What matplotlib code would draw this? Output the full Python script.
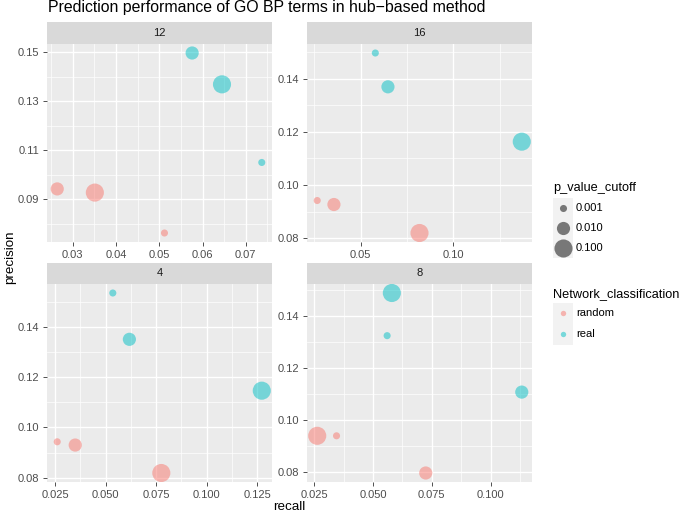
import matplotlib
matplotlib.use("Agg")
import matplotlib.pyplot as plt
from matplotlib.patches import Rectangle

plt.rcParams['font.family'] = ['Liberation Sans', 'DejaVu Sans']

# facet labels (hub count), in panel order
hub_labels = ['12', '16', '4', '8']
cutoff_levels = [0.001, 0.010, 0.100]
class_labels = ['random', 'real']

# one row per panel, values ordered by cutoff 0.001, 0.010, 0.100
random_recall = [[0.0512, 0.0264, 0.0351],
                 [0.0266, 0.0356, 0.0817],
                 [0.0261, 0.0350, 0.0776],
                 [0.0345, 0.0724, 0.0263]]
random_precision = [[0.0762, 0.0942, 0.0927],
                    [0.0942, 0.0927, 0.0820],
                    [0.0943, 0.0930, 0.0819],
                    [0.0941, 0.0798, 0.0941]]
real_recall = [[0.0737, 0.0576, 0.0645],
               [0.0579, 0.0647, 0.1368],
               [0.0536, 0.0618, 0.1273],
               [0.0560, 0.1132, 0.0580]]
real_precision = [[0.1050, 0.1497, 0.1369],
                  [0.1496, 0.1369, 0.1163],
                  [0.1534, 0.1350, 0.1146],
                  [0.1326, 0.1109, 0.1490]]

# tick positions per panel
x_major = [[0.03, 0.04, 0.05, 0.06, 0.07],
           [0.05, 0.10],
           [0.025, 0.050, 0.075, 0.100, 0.125],
           [0.025, 0.050, 0.075, 0.100]]
x_labels = [['0.03', '0.04', '0.05', '0.06', '0.07'],
            ['0.05', '0.10'],
            ['0.025', '0.050', '0.075', '0.100', '0.125'],
            ['0.025', '0.050', '0.075', '0.100']]
y_major = [[0.09, 0.11, 0.13, 0.15],
           [0.08, 0.10, 0.12, 0.14],
           [0.08, 0.10, 0.12, 0.14],
           [0.08, 0.10, 0.12, 0.14]]
y_labels = [['0.09', '0.11', '0.13', '0.15'],
            ['0.08', '0.10', '0.12', '0.14'],
            ['0.08', '0.10', '0.12', '0.14'],
            ['0.08', '0.10', '0.12', '0.14']]

colors = {'random': '#F8766D', 'real': '#00BFC4'}
point_sizes = [26, 90, 170]
ALPHA = 0.5
TICK_FS = 8.0
LAB_FS = 9.6
LEG_FS = 9.2

W, H = 685, 513
fig = plt.figure(figsize=(W / 100, H / 100), dpi=100)


def box(x0, y0, x1, y1):
    """ pixel box (top-left origin) -> figure fraction rect """
    return [x0 / W, 1 - y1 / H, (x1 - x0) / W, (y1 - y0) / H]


def minors(ticks, lo, hi):
    step = ticks[1] - ticks[0]
    vals = [ticks[0] - step / 2] + [t + step / 2 for t in ticks]
    return [v for v in vals if lo <= v <= hi]


panel_boxes = [(47, 44, 272, 242), (307, 44, 532, 242),
               (47, 284, 272, 482), (307, 284, 532, 482)]
strip_h = [22, 22, 21, 21]

for i, hub in enumerate(hub_labels):
    x0, y0, x1, y1 = panel_boxes[i]
    ax = fig.add_axes(box(x0, y0, x1, y1))
    ax.set_facecolor('#EBEBEB')
    for s in ax.spines.values():
        s.set_visible(False)

    for cls, xs, ys in (('random', random_recall[i], random_precision[i]),
                        ('real', real_recall[i], real_precision[i])):
        ax.scatter(xs, ys, s=point_sizes, color=colors[cls], alpha=ALPHA,
                   linewidths=0, zorder=3)
    ax.margins(0.05)

    ax.set_xticks(x_major[i])
    ax.set_xticklabels(x_labels[i])
    ax.set_yticks(y_major[i])
    ax.set_yticklabels(y_labels[i])
    xlo, xhi = ax.get_xlim()
    ylo, yhi = ax.get_ylim()
    ax.set_xticks(minors(x_major[i], xlo, xhi), minor=True)
    ax.set_yticks(minors(y_major[i], ylo, yhi), minor=True)
    ax.set_xlim(xlo, xhi)
    ax.set_ylim(ylo, yhi)

    ax.grid(which='major', color='white', linewidth=1.0, zorder=0)
    ax.grid(which='minor', color='white', linewidth=0.5, zorder=0)
    ax.set_axisbelow(True)
    ax.tick_params(which='major', length=3, width=0.6, color='#333333',
                   labelsize=TICK_FS, labelcolor='#4D4D4D', pad=2.5)
    ax.tick_params(which='minor', length=0)

    sax = fig.add_axes(box(x0, y0 - strip_h[i], x1, y0))
    sax.set_facecolor('#D9D9D9')
    sax.set_xticks([])
    sax.set_yticks([])
    for s in sax.spines.values():
        s.set_visible(False)
    sax.text(0.5, 0.5, hub, ha='center', va='center', fontsize=TICK_FS,
             color='#1A1A1A', transform=sax.transAxes)

fig.text(47.5 / W, 1 - 12 / H, 'Prediction performance of GO BP terms in hub\u2212based method',
         ha='left', va='baseline', fontsize=11.4, color='black')
fig.text(289.5 / W, 1 - 510 / H, 'recall', ha='center', va='baseline', fontsize=LAB_FS)
fig.text(10 / W, 1 - 257 / H, 'precision', ha='center', va='center',
         rotation=90, fontsize=LAB_FS)

# legends drawn in a pixel-space overlay axes
lax = fig.add_axes([0, 0, 1, 1])
lax.set_xlim(0, W)
lax.set_ylim(H, 0)
lax.axis('off')

key_x0, key_w = 553, 20
lax.text(553, 191, 'p_value_cutoff', fontsize=LEG_FS, ha='left', va='baseline')
for k, (lev, sz) in enumerate(zip(cutoff_levels, point_sizes)):
    top = 198 + k * 20
    lax.add_patch(Rectangle((key_x0, top), key_w, key_w, facecolor='#F2F2F2',
                            edgecolor='none'))
    lax.scatter([key_x0 + key_w / 2], [top + key_w / 2], s=sz, color='black',
                alpha=ALPHA, linewidths=0)
    lax.text(576, top + key_w / 2, f'{lev:.3f}', fontsize=TICK_FS, ha='left',
             va='center')

lax.text(553, 297, 'Network_classification', fontsize=LEG_FS, ha='left', va='baseline')
for k, cls in enumerate(class_labels):
    top = 303 + k * 21
    lax.add_patch(Rectangle((key_x0, top), key_w, 20.5, facecolor='#F2F2F2',
                            edgecolor='none'))
    lax.scatter([key_x0 + key_w / 2], [top + 10.25], s=15, color=colors[cls],
                alpha=ALPHA, linewidths=0)
    lax.text(576, top + 10.25, cls, fontsize=TICK_FS, ha='left', va='center')

fig.savefig('out.png', dpi=100)
